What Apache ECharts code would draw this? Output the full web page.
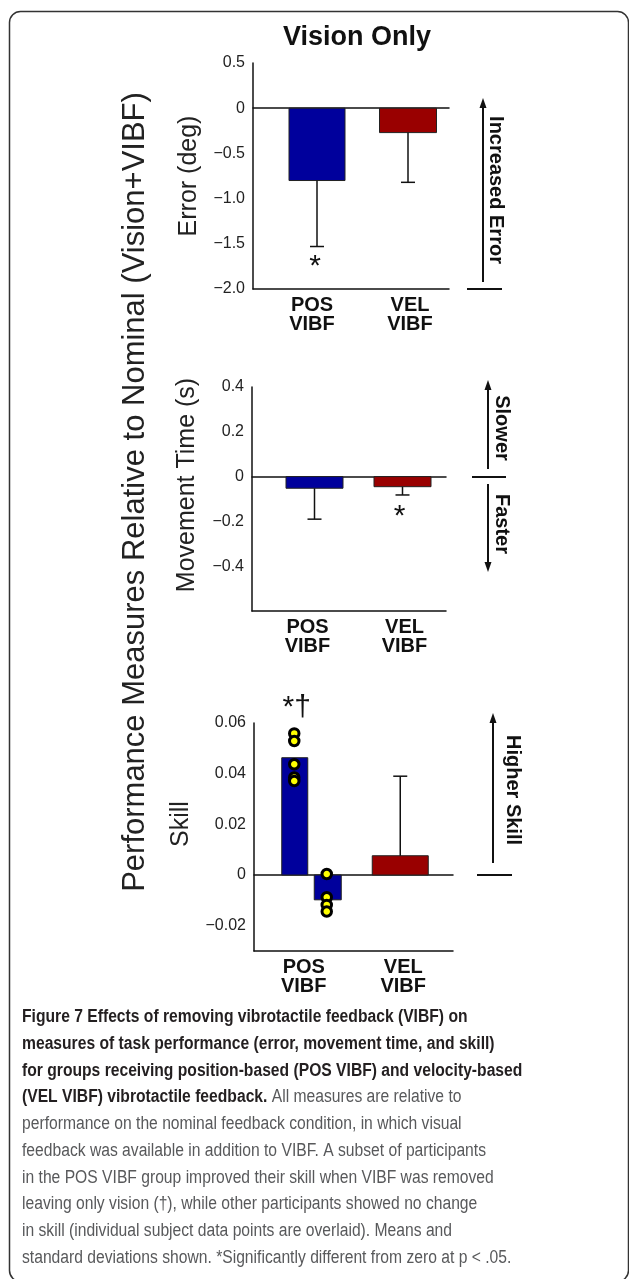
<!DOCTYPE html>
<html>
<head>
<meta charset="utf-8">
<script src="https://cdn.jsdelivr.net/npm/echarts@6/dist/echarts.min.js"></script>
<style>
html, body { margin: 0; padding: 0; background: #fff; }
#main { width: 629px; height: 1279px; }
</style>
</head>
<body>
<div id="main"></div>
<script>
var groups = ['POS\nVIBF', 'VEL\nVIBF'];

// panel 1, error (deg)
var errorMean = [-0.80, -0.27];
var errorSd = [0.73, 0.55];
var errorSig = ['*', ''];
var errorTicks = [-2.0, -1.5, -1.0, -0.5, 0, 0.5];

// panel 2, movement time (s)
var timeMean = [-0.052, -0.045];
var timeSd = [0.138, 0.037];
var timeSig = ['', '*'];
var timeTicks = [-0.4, -0.2, 0, 0.2, 0.4];

// panel 3, skill - POS split in improved / no change subsets, then VEL
var skillGroup = [0, 0, 1];
var skillMean = [0.0463, -0.0098, 0.0076];
var skillSd = [0, 0, 0.0314];
var skillSig = ['*\u2020', '', ''];
var skillTicks = [-0.02, 0, 0.02, 0.04, 0.06];
var skillImproved = [0.0559, 0.0529, 0.0437, 0.0385, 0.0371];
var skillNoChange = [0.0004, -0.0088, -0.0118, -0.0144];

var BLUE = '#00009c';
var RED = '#990000';
var FONT = "'Liberation Sans', Arial, sans-serif";

var myChart = echarts.init(document.getElementById('main'), null, { renderer: 'canvas' });

// bar + one sided sd, shifted from the category centre
function barRender(shift, width, colors, sig, sigDx, sigDy) {
    return function (params, api) {
        var i = params.dataIndex;
        var c = api.value(0), m = api.value(1), sd = api.value(2);
        var base = api.coord([c, 0]);
        var top = api.coord([c, m]);
        var x = base[0] + shift[i];
        var w = width[i];
        var kids = [{
            type: 'rect',
            shape: { x: x - w / 2, y: Math.min(base[1], top[1]), width: w, height: Math.abs(top[1] - base[1]) },
            style: { fill: colors[i], stroke: '#222', lineWidth: 1 }
        }];
        var endY = top[1];
        if (sd > 0) {
            var end = api.coord([c, m < 0 ? m - sd : m + sd]);
            endY = end[1];
            kids.push({ type: 'line', shape: { x1: x, y1: top[1], x2: x, y2: endY }, style: { stroke: '#111', lineWidth: 1.5 } });
            kids.push({ type: 'line', shape: { x1: x - 7, y1: endY, x2: x + 7, y2: endY }, style: { stroke: '#111', lineWidth: 1.5 } });
        }
        if (sig[i]) {
            kids.push({
                type: 'text', x: x + sigDx[i], y: endY + sigDy[i],
                style: { text: sig[i], fill: '#111', font: '30px ' + FONT, align: 'center', verticalAlign: 'middle' }
            });
        }
        return { type: 'group', children: kids };
    };
}

function tickFormatter(ticks, dec) {
    return function (v) {
        var hit = ticks.some(function (t) { return Math.abs(t - v) < 1e-9; });
        if (!hit) return '';
        if (Math.abs(v) < 1e-12) return '0';
        return (v < 0 ? '\u2212' : '') + Math.abs(v).toFixed(dec);
    };
}

function yAxisOpt(idx, name, min, max, interval, ticks, dec, gap, lift) {
    return {
        type: 'value', gridIndex: idx, min: min, max: max, interval: interval,
        name: name, nameLocation: 'middle', nameGap: gap,
        nameTextStyle: { fontSize: 25, color: '#222', fontFamily: FONT, padding: [0, 0, 0, lift] },
        axisLine: { show: true, lineStyle: { color: '#111', width: 1.5 } },
        axisTick: { show: false },
        splitLine: { show: false },
        axisLabel: { formatter: tickFormatter(ticks, dec), fontSize: 16, color: '#222', fontFamily: FONT, margin: 8 }
    };
}

function xAxisOpt(idx, pad) {
    return {
        type: 'category', gridIndex: idx, data: groups,
        axisLine: { onZero: false, lineStyle: { color: '#111', width: 1.5 } },
        axisTick: { show: false },
        axisLabel: { fontSize: 20, fontWeight: 'bold', color: '#111', fontFamily: FONT, lineHeight: 19, margin: 7, padding: [0, 0, 0, pad] }
    };
}

// line through y = 0
function zeroAxisOpt(idx) {
    return {
        type: 'category', gridIndex: idx, data: groups,
        axisLine: { onZero: true, lineStyle: { color: '#111', width: 1.5 } },
        axisTick: { show: false }, axisLabel: { show: false }
    };
}

function zip(g, m, s) {
    return m.map(function (v, i) { return [g[i], v, s[i]]; });
}

// side annotations
function arrow(x, y1, y2) {
    var dir = y2 < y1 ? -1 : 1;
    return [{
        type: 'line', shape: { x1: x, y1: y1, x2: x, y2: y2 - dir * 6 }, style: { stroke: '#111', lineWidth: 2 }
    }, {
        type: 'polygon', shape: { points: [[x, y2], [x - 3.5, y2 - dir * 10], [x + 3.5, y2 - dir * 10]] }, style: { fill: '#111' }
    }];
}
function hline(x1, x2, y) {
    return { type: 'line', shape: { x1: x1, y1: y, x2: x2, y2: y }, style: { stroke: '#111', lineWidth: 2 } };
}
function sideText(t, x, y) {
    return {
        type: 'text', x: x, y: y, rotation: -Math.PI / 2,
        style: { text: t, font: 'bold 20px ' + FONT, fill: '#111', align: 'center', verticalAlign: 'middle' }
    };
}

var caption =
    '{b|Figure 7 Effects of removing vibrotactile feedback (VIBF) on}\n' +
    '{b|measures of task performance (error, movement time, and skill)}\n' +
    '{b|for groups receiving position-based (POS VIBF) and velocity-based}\n' +
    '{b|(VEL VIBF) vibrotactile feedback.}{n| All measures are relative to}\n' +
    '{n|performance on the nominal feedback condition, in which visual}\n' +
    '{n|feedback was available in addition to VIBF. A subset of participants}\n' +
    '{n|in the POS VIBF group improved their skill when VIBF was removed}\n' +
    '{n|leaving only vision (\u2020), while other participants showed no change}\n' +
    '{n|in skill (individual subject data points are overlaid). Means and}\n' +
    '{n|standard deviations shown. *Significantly different from zero at p < .05.}';

var graphics = [{
    type: 'rect', shape: { x: 9.5, y: 11.5, width: 619, height: 1270, r: 11 },
    style: { fill: 'none', stroke: '#333', lineWidth: 1.5 }, silent: true
}, {
    type: 'text', x: 357, y: 38,
    style: { text: 'Vision Only', font: 'bold 27px ' + FONT, fill: '#111', align: 'center', verticalAlign: 'middle' }
}, {
    type: 'text', x: 135, y: 492, rotation: Math.PI / 2,
    style: { text: 'Performance Measures Relative to Nominal (Vision+VIBF)', font: '31px ' + FONT, fill: '#222', align: 'center', verticalAlign: 'middle' }
}, {
    type: 'text', x: 22, y: 1004, scaleX: 0.87,
    style: {
        text: caption,
        rich: {
            b: { font: 'bold 18px ' + FONT, fill: '#231f20', lineHeight: 26.7 },
            n: { font: '18px ' + FONT, fill: '#58595b', lineHeight: 26.7 }
        }
    }
},
hline(467, 502, 289), sideText('Increased Error', 496, 190),
hline(472, 506, 477), sideText('Slower', 502, 428), sideText('Faster', 502, 524),
hline(477, 512, 875), sideText('Higher Skill', 513, 790)
].concat(arrow(483, 282, 98), arrow(488, 469, 380), arrow(488, 484, 572), arrow(493, 863, 713));

var option = {
    animation: false,
    grid: [
        { left: 253, top: 63, width: 196, height: 226, outerBoundsMode: 'none' },
        { left: 252, top: 387, width: 194, height: 224, outerBoundsMode: 'none' },
        { left: 254, top: 723, width: 199, height: 228, outerBoundsMode: 'none' }
    ],
    xAxis: [xAxisOpt(0, 20), xAxisOpt(1, 14), xAxisOpt(2, 0), zeroAxisOpt(0), zeroAxisOpt(1), zeroAxisOpt(2)],
    yAxis: [
        yAxisOpt(0, 'Error (deg)', -2, 0.5, 0.5, errorTicks, 1, 51, 0),
        yAxisOpt(1, 'Movement Time (s)', -0.6, 0.4, 0.2, timeTicks, 1, 52, 28),
        yAxisOpt(2, 'Skill', -0.03, 0.06, 0.01, skillTicks, 2, 60, 26)
    ],
    series: [{
        type: 'custom', xAxisIndex: 0, yAxisIndex: 0,
        data: zip([0, 1], errorMean, errorSd), encode: { x: 0, y: 1 },
        renderItem: barRender([15, 8], [56, 57], [BLUE, RED], errorSig, [-2, 0], [20, 0])
    }, {
        type: 'custom', xAxisIndex: 1, yAxisIndex: 1,
        data: zip([0, 1], timeMean, timeSd), encode: { x: 0, y: 1 },
        renderItem: barRender([14, 5], [57, 57], [BLUE, RED], timeSig, [0, -3], [0, 22])
    }, {
        type: 'custom', xAxisIndex: 2, yAxisIndex: 2,
        data: zip(skillGroup, skillMean, skillSd), encode: { x: 0, y: 1 },
        renderItem: barRender([-9, 24, -3], [26, 27, 56], [BLUE, BLUE, RED], skillSig, [2, 0, 0], [-50, 0, 0])
    }, {
        type: 'scatter', xAxisIndex: 2, yAxisIndex: 2,
        data: skillImproved.map(function (v) { return [0, v]; }),
        symbolSize: 9.5, symbolOffset: [-9.5, 0],
        itemStyle: { color: '#ffff00', borderColor: '#000', borderWidth: 3, opacity: 1 }
    }, {
        type: 'scatter', xAxisIndex: 2, yAxisIndex: 2,
        data: skillNoChange.map(function (v) { return [0, v]; }),
        symbolSize: 9.5, symbolOffset: [23, 0],
        itemStyle: { color: '#ffff00', borderColor: '#000', borderWidth: 3, opacity: 1 }
    }],
    graphic: graphics
};

myChart.setOption(option);
</script>
</body>
</html>
